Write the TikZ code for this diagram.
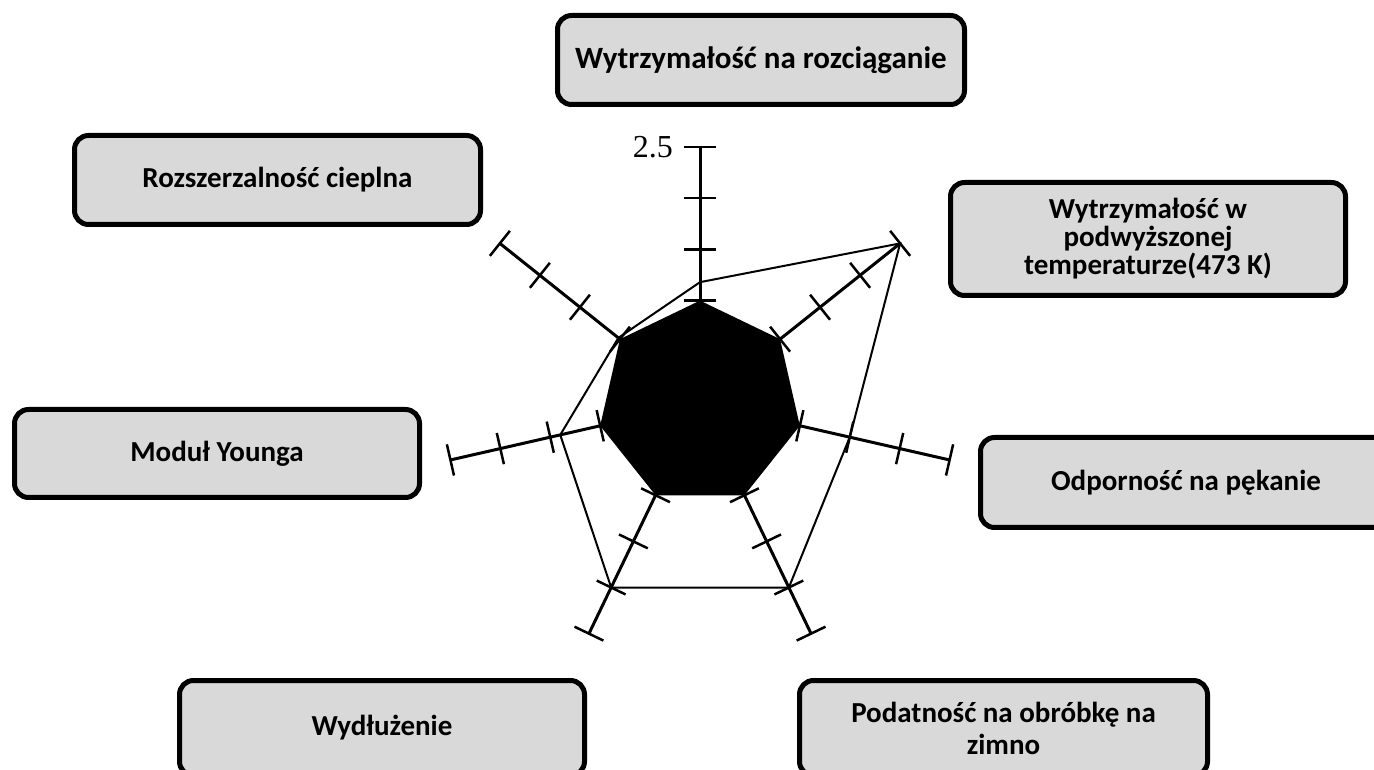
\documentclass[tikz,border=0pt]{standalone}
\usepackage{fontspec}
\setmainfont{Carlito}
\newfontfamily\numfont{Liberation Serif}
\usetikzlibrary{calc,positioning}
\definecolor{boxgray}{HTML}{D9D9D9}

\begin{document}
\begin{tikzpicture}[x=1pt,y=1pt,
 prop/.style={draw,line width=5pt,rounded corners=14pt,fill=boxgray,align=center,
  inner sep=0pt,font=\bfseries\fontsize{29}{28}\selectfont},
 axis/.style={line width=3pt},
 tickmark/.style={line width=2.5pt},
 series/.style={line width=2pt,line join=miter}]
 \useasboundingbox (0,0) rectangle (1374,769);
 \clip (0,0) rectangle (1374,769);
 \coordinate (c) at (700,366);
 % axes and ticks
 \foreach \i in {0,...,6}{
  \pgfmathsetmacro\ang{90-\i*360/7}
  \draw[axis] (c) -- ($(c)+(\ang:256)$) coordinate (a\i);
  \foreach \r in {102.4,153.6,204.8,256}
   \draw[tickmark] ($(c)+(\ang:\r)+(\ang+90:16)$) -- ($(c)+(\ang:\r)+(\ang-90:16)$);
 }
 % first material
 \fill[shift={(c)}] (90:102.4) \foreach \i in {1,...,6}{ -- ({90-\i*360/7}:102.4)} -- cycle;
 % second material
 \foreach \v [count=\i from 0] in {1.18,2.5,1.5,2.0,2.0,1.4,1.02}
  \coordinate (s\i) at ($(c)+({90-\i*360/7}:{\v*102.4})$);
 \draw[series] (s0) -- (s1) -- (s2) -- (s3) -- (s4) -- (s5) -- (s6) -- cycle;
 \node[font=\numfont\fontsize{32}{32}\selectfont,inner sep=0pt,left=27pt of a0] (scale) {2.5};
 % properties
 \node[prop,minimum width=407pt,minimum height=89pt,font=\bfseries\fontsize{31}{30}\selectfont] (ten) at (761,709) {Wytrzymałość na rozciąganie};
 \node[prop,minimum width=406pt,minimum height=89pt] (therm) at (277.5,589) {Rozszerzalność cieplna};
 \node[prop,minimum width=395pt,minimum height=113pt] (hot) at (1148,530) {Wytrzymałość w\\podwyższonej\\temperaturze(473 K)};
 \node[prop,minimum width=405pt,minimum height=88pt] (young) at (217,315.5) {Moduł Younga};
 \node[prop,minimum width=411pt,minimum height=90pt] (frac) at (1186,286.5) {Odporność na pękanie};
 \node[prop,minimum width=405pt,minimum height=95pt] (elong) at (382,41) {Wydłużenie};
 \node[prop,minimum width=408pt,minimum height=95pt,font=\bfseries\fontsize{29}{32}\selectfont] (cold) at (1003.5,41) {Podatność na obróbkę na\\zimno};
\end{tikzpicture}
\end{document}
